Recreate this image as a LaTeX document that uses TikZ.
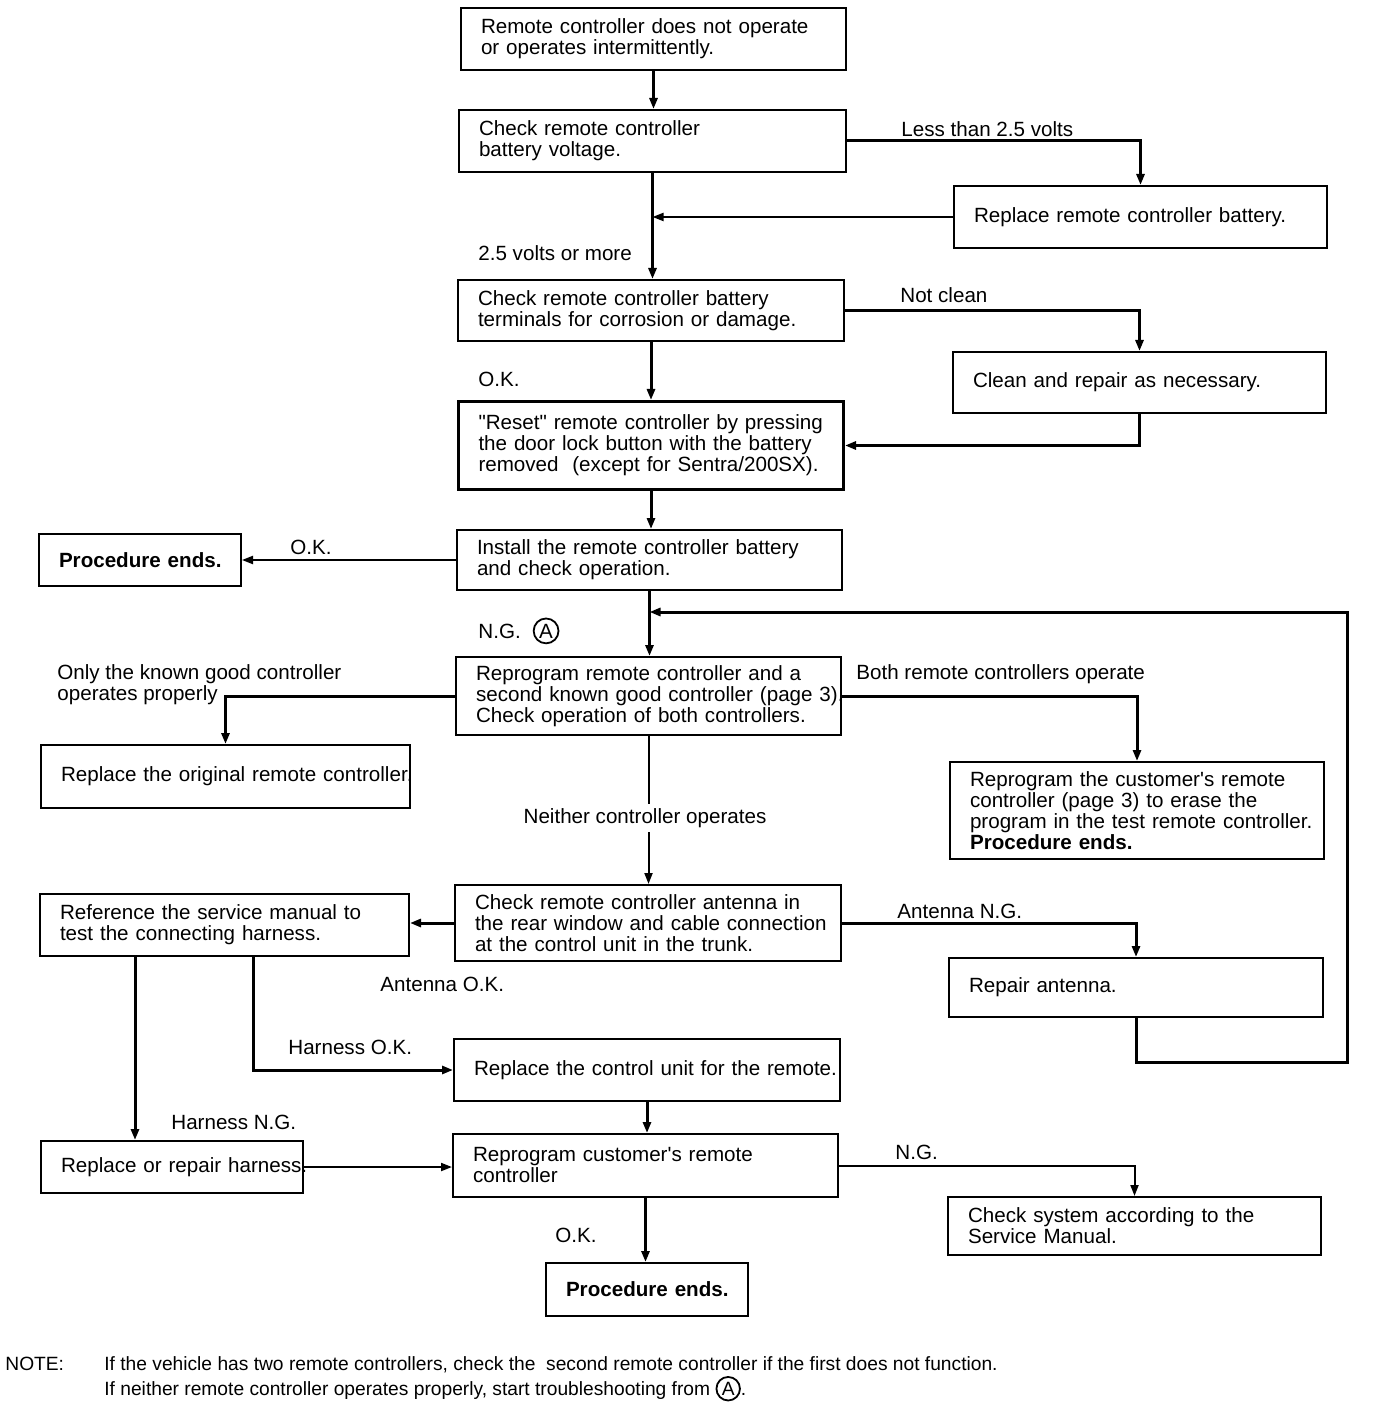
\documentclass[tikz,border=0pt]{standalone}
\usepackage{fontspec}
\setmainfont{Liberation Sans}[Ligatures=TeXOff]
\usetikzlibrary{arrows.meta}

\newcommand{\markA}{\tikz[baseline=(mk.base)]\node[draw, circle, line width=0.9pt, inner sep=0.9pt, anchor=center] (mk) {A};}

\tikzset{
  box/.style 2 args={draw, line width=1pt, anchor=north west, inner xsep=10pt, inner ysep=0pt,
    text width=#1-20pt, minimum height=#2,
    execute at begin node={\rightskip=0pt plus 1fil minus 60pt\relax}},
  endbox/.style={font=\fontsize{10.3}{10.5}\selectfont\bfseries},
  lab/.style={anchor=base west, inner sep=0pt},
  flow/.style={line width=1.5pt, -{Triangle[length=5.5pt, width=4pt]}},
  thinflow/.style={line width=1pt, -{Triangle[length=5.5pt, width=4pt]}}
}

\begin{document}
\begin{tikzpicture}[x=0.5pt, y=-0.5pt, font=\fontsize{10.3}{10.5}\selectfont]
  \useasboundingbox (0,0) rectangle (1376,1406);

  % Boxes, middle column
  \node[box={192.5pt}{31pt}] (fault) at (460,7) {Remote controller does not operate\\or operates intermittently.};
  \node[box={193.5pt}{31pt}] (chkvolt) at (458,109) {Check remote controller\\battery voltage.};
  \node[box={193pt}{30.5pt}] (chkterm) at (457,279) {Check remote controller battery\\terminals for corrosion or damage.};
  \node[box={192.5pt}{44pt}, line width=1.5pt] (reset) at (457,400) {"Reset" remote controller by pressing\\the door lock button with the battery\\removed\ \ (except for Sentra/200SX).};
  \node[box={192.5pt}{30pt}] (install) at (456,529) {Install the remote controller battery\\and check operation.};
  \node[box={192.5pt}{39pt}] (reprog) at (455,656) {Reprogram remote controller and a\\second known good controller (page 3).\\Check operation of both controllers.};
  \node[box={193pt}{38pt}] (antenna) at (454,884) {Check remote controller antenna in\\the rear window and cable connection\\at the control unit in the trunk.};
  \node[box={193pt}{31pt}] (unit) at (453,1038) {Replace the control unit for the remote.};
  \node[box={192.5pt}{31.5pt}] (reprogcust) at (452,1133) {Reprogram customer's remote\\controller};
  \node[box={101pt}{26.5pt}, endbox] (endB) at (545,1262) {Procedure ends.};

  % Boxes, right column
  \node[box={186.5pt}{31pt}] (newbat) at (953,185) {Replace remote controller battery.};
  \node[box={186.5pt}{30.5pt}] (clean) at (952,351) {Clean and repair as necessary.};
  \node[box={187pt}{48.5pt}] (erase) at (949,761) {Reprogram the customer's remote\\controller (page 3) to erase the\\program in the test remote controller.\\\textbf{Procedure ends.}};
  \node[box={187pt}{29.5pt}] (repant) at (948,957) {Repair antenna.};
  \node[box={186.5pt}{29pt}] (chksys) at (947,1196) {Check system according to the\\Service Manual.};

  % Boxes, left column
  \node[box={101pt}{26pt}, endbox] (endA) at (38,533) {Procedure ends.};
  \node[box={184.5pt}{31.5pt}] (replorig) at (40,744) {Replace the original remote controller.};
  \node[box={184.5pt}{31pt}] (harness) at (39,893) {Reference the service manual to\\test the connecting harness.};
  \node[box={131pt}{26pt}] (repharn) at (40,1140) {Replace or repair harness.};

  \coordinate (loopB) at (1347,1062);
  \coordinate (loopT) at (1347,612);
  \coordinate (hok) at (253,0);
  \coordinate (hng) at (135,0);

  % Connectors
  \draw[flow] (fault.south) -- (fault.south |- chkvolt.north);
  \draw[flow] (chkvolt.south) -- (chkvolt.south |- chkterm.north);
  \draw[flow] (chkvolt.east) -| (newbat.north);
  \draw[thinflow] (newbat.west) -- (chkvolt.south |- newbat.west);
  \draw[flow] (chkterm.south) -- (chkterm.south |- reset.north);
  \draw[flow] (chkterm.east) -| (clean.north);
  \draw[flow] (clean.south) |- (reset.east);
  \draw[flow] (reset.south) -- (reset.south |- install.north);
  \draw[thinflow] (install.west) -- (endA.east);
  \draw[flow] (install.south) -- (install.south |- reprog.north);
  \draw[flow] (repant.south) |- (loopB) -- (loopT) -- (install.south |- loopT);
  \draw[flow] (reprog.west) -| (replorig.north);
  \draw[flow] (reprog.east) -| (erase.north);
  \draw[thinflow] (reprog.south) -- (reprog.south |- antenna.north);
  \draw[flow] (antenna.west) -- (harness.east |- antenna.west);
  \draw[flow] (antenna.east) -| (repant.north);
  \draw[flow] (harness.south -| hok) |- (unit.west);
  \draw[flow] (harness.south -| hng) -- (repharn.north -| hng);
  \draw[flow] (unit.south) -- (unit.south |- reprogcust.north);
  \draw[thinflow] (repharn.east) -- (reprogcust.west |- repharn.east);
  \draw[thinflow] (reprogcust.east) -| (chksys.north);
  \draw[flow] (reprogcust.south) -- (reprogcust.south |- endB.north);

  % Labels
  \node[lab] (lt25) at (901,137) {Less than 2.5 volts};
  \node[lab] (ge25) at (478,261) {2.5 volts or more};
  \node[lab] (notcl) at (900,303) {Not clean};
  \node[lab] (okterm) at (478,387) {O.K.};
  \node[lab] (okinst) at (290,554) {O.K.};
  \node[lab] (nginst) at (478,638) {N.G.\hspace{6pt}\markA};
  \node[lab, anchor=north west, align=left] (onlygood) at (57,664) {Only the known good controller\\operates properly};
  \node[lab] (bothok) at (856,679) {Both remote controllers operate};
  \node[fill=white, inner sep=2pt] (neither) at (645,818) {Neither controller operates};
  \node[lab] (antng) at (897,918) {Antenna N.G.};
  \node[lab] (antok) at (380,991) {Antenna O.K.};
  \node[lab] (harnok) at (288,1054) {Harness O.K.};
  \node[lab] (harnng) at (171,1129) {Harness N.G.};
  \node[lab] (ngcust) at (895,1159) {N.G.};
  \node[lab] (okcust) at (555,1242) {O.K.};

  % Note
  \node[lab, font=\fontsize{9.6}{12.5}\selectfont] (notehd) at (5,1370) {NOTE:};
  \node[lab, anchor=north west, align=left, font=\fontsize{9.6}{12.5}\selectfont] (notetxt) at (104,1356) {If the vehicle has two remote controllers, check the\ \ second remote controller if the first does not function.\\If neither remote controller operates properly, start troubleshooting from \markA.};
\end{tikzpicture}
\end{document}
